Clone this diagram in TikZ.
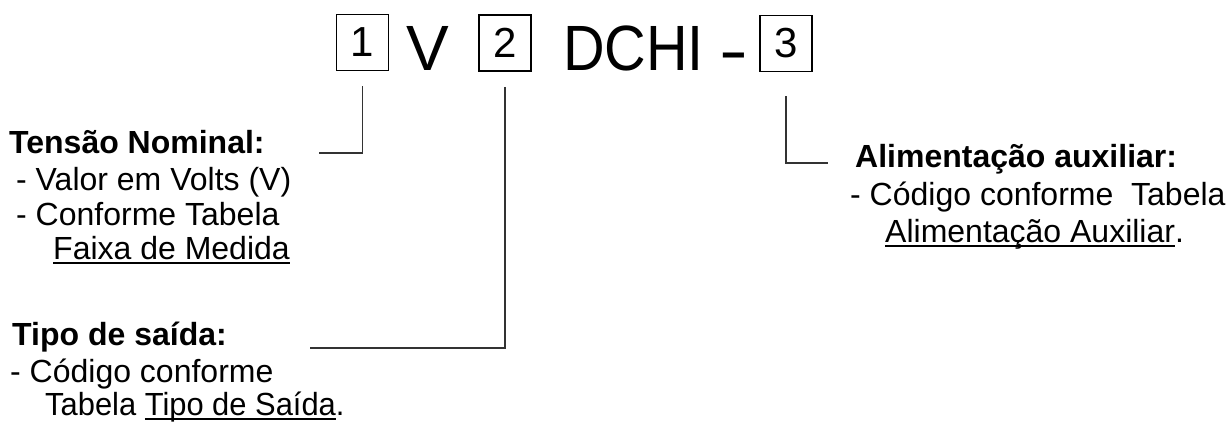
\documentclass[tikz,border=0pt]{standalone}
\usepackage{fontspec}
\setmainfont{Liberation Sans}
\newcommand\myund[1]{\setbox0\hbox{#1}\rlap{\rule[-4.5pt]{\wd0}{1.4pt}}\box0}
\begin{document}
\begin{tikzpicture}[x=1pt,y=-1pt,
  codebox/.style={draw=black,line width=1.6pt,minimum width=52pt,minimum height=56pt,inner sep=0pt,font=\fontsize{42}{42}\selectfont},
  bigtxt/.style={inner sep=0pt,anchor=base west,font=\fontsize{64}{64}\selectfont},
  lbl/.style={inner sep=0pt,anchor=base west,font=\fontsize{32}{32}\selectfont},
  lblb/.style={inner sep=0pt,anchor=base west,font=\fontsize{32}{32}\selectfont\bfseries},
  conn/.style={draw=black!80,line width=1.4pt}]
\useasboundingbox (0,0) rectangle (1231,421);
% header
\node[codebox] (b1) at (362.5,42.5) {1};
\node[bigtxt] (v) at (406,70) {V};
\node[codebox] (b2) at (505,43) {2};
\node[bigtxt] (dchi) at (563,70) {\scalebox{0.9}[1]{DCHI}};
\node[bigtxt] (dash) at (719,72) {\scalebox{1.35}[1]{-}};
\node[codebox] (b3) at (786,43.5) {3};
% labels left top
\node[lblb] (t1) at (9,153) {Tensão Nominal:};
\node[lbl] (t1a) at (16,190) {- Valor em Volts (V)};
\node[lbl] (t1b) at (16,225) {- Conforme Tabela};
\node[lbl] (t1c) at (53,259) {\myund{Faixa de Medida}};
% labels left bottom
\node[lblb] (t2) at (12,345) {Tipo de saída:};
\node[lbl] (t2a) at (10,382) {- Código conforme};
\node[lbl] (t2b) at (45,415) {\scalebox{0.965}[1]{Tabela \myund{Tipo de Saída}.}};
% labels right
\node[lblb] (t3) at (855,167) {Alimentação auxiliar:};
\node[lbl] (t3a) at (850,205) {- Código conforme\ \ Tabela};
\node[lbl] (t3b) at (885,242) {\myund{Alimentação Auxiliar}.};
% connectors
\coordinate (c1) at (319,153);
\coordinate (c2) at (310,348);
\coordinate (c3) at (828,163);
\draw[conn] ([yshift=-15]b1.south) |- (c1);
\draw[conn] ([yshift=-15]b2.south) |- (c2);
\draw[conn] ([yshift=-24]b3.south) |- (c3);
\end{tikzpicture}
\end{document}
